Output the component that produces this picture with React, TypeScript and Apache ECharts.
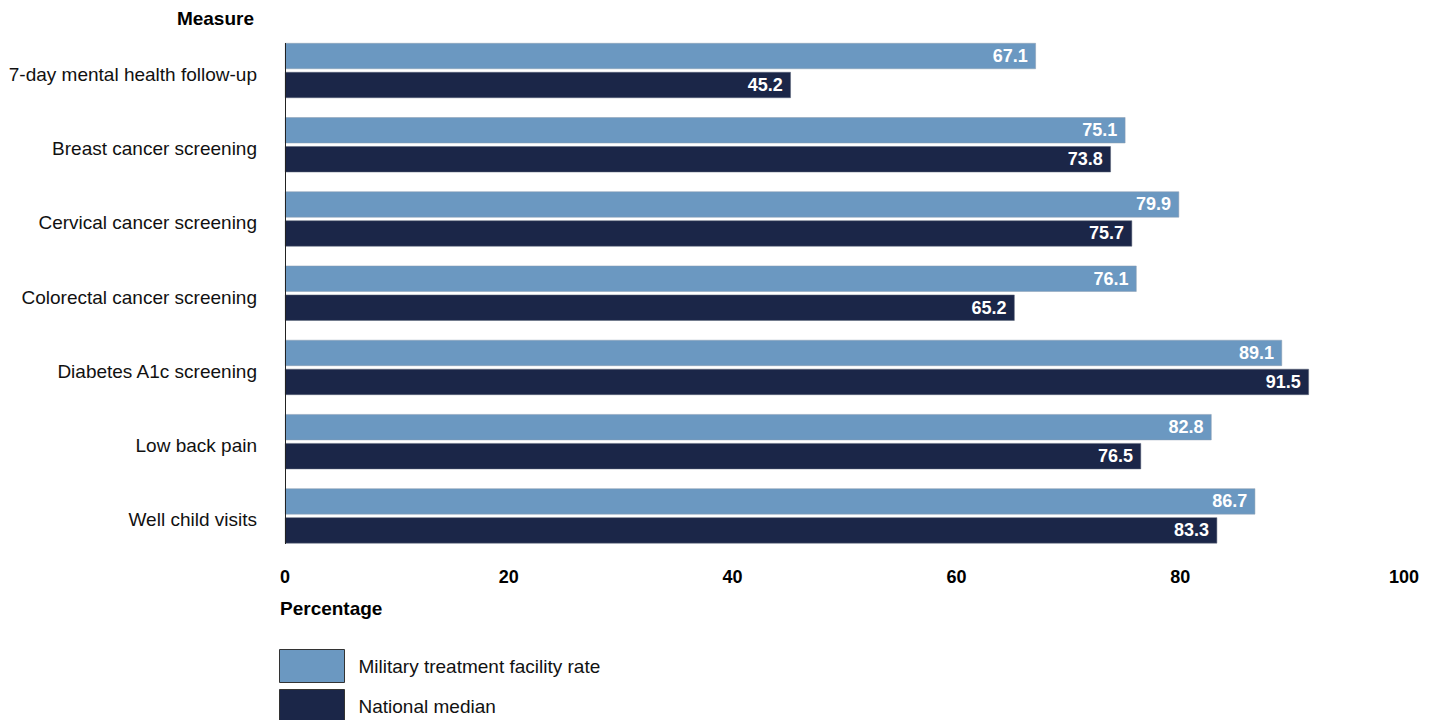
import React, { useEffect, useRef } from "react";
import * as echarts from "echarts";

const categories = [
  "7-day mental health follow-up",
  "Breast cancer screening",
  "Cervical cancer screening",
  "Colorectal cancer screening",
  "Diabetes A1c screening",
  "Low back pain",
  "Well child visits",
];
const mtfRate = [67.1, 75.1, 79.9, 76.1, 89.1, 82.8, 86.7];
const nationalMedian = [45.2, 73.8, 75.7, 65.2, 91.5, 76.5, 83.3];
const seriesNames = ["Military treatment facility rate", "National median"];
const xTicks = { min: 0, max: 100, interval: 20 };

const FONT = "'Liberation Sans', Arial, sans-serif";
const LIGHT = "#6b98c1";
const DARK = "#1b2648";

export default function App() {
  const ref = useRef<HTMLDivElement>(null);
  useEffect(() => {
    if (!ref.current) return;
    const chart = echarts.init(ref.current, null, { renderer: "svg" });
    const labelStyle = {
      show: true,
      position: "insideRight",
      distance: 8,
      color: "#ffffff",
      fontWeight: "bold",
      fontSize: 18,
      fontFamily: FONT,
      formatter: (p: any) => Number(p.value).toFixed(1),
    };
    const legendCommon = {
      orient: "vertical",
      left: 279,
      padding: 0,
      itemWidth: 65,
      itemHeight: 33,
      icon: "rect",
      textStyle: { fontSize: 19, color: "#111", fontFamily: FONT, padding: [0, 0, 0, 9] },
      itemStyle: { borderColor: "#333", borderWidth: 1 },
    };
    chart.setOption({
      animation: false,
      textStyle: { fontFamily: FONT },
      title: [
        {
          text: "Measure",
          right: 1439 - 259,
          top: 3.5,
          textStyle: { fontSize: 19, fontWeight: "bold", color: "#000", fontFamily: FONT },
        },
        {
          text: "Percentage",
          left: 275,
          top: 593.5,
          textStyle: { fontSize: 19, fontWeight: "bold", color: "#000", fontFamily: FONT },
        },
      ],
      grid: { left: 285, right: 35, top: 33.4, bottom: 167 },
      legend: [
        { ...legendCommon, top: 649, data: [seriesNames[0]] },
        { ...legendCommon, top: 689, data: [seriesNames[1]] },
      ],
      xAxis: {
        type: "value",
        min: xTicks.min,
        max: xTicks.max,
        interval: xTicks.interval,
        axisLine: { show: false },
        axisTick: { show: false },
        splitLine: { show: false },
        axisLabel: {
          margin: 15,
          color: "#000",
          fontWeight: "bold",
          fontSize: 18,
          fontFamily: FONT,
        },
      },
      yAxis: {
        type: "category",
        data: categories,
        inverse: true,
        axisLine: { show: false },
        axisTick: { show: false },
        axisLabel: {
          margin: 28,
          formatter: (v: string) => "{c|" + v + "}",
          rich: {
            c: {
              color: "#111",
              fontSize: 19,
              fontFamily: FONT,
              padding: [8, 0, 0, 0],
            },
          },
        },
      },
      graphic: [
        {
          type: "line",
          shape: { x1: 285.5, y1: 43, x2: 285.5, y2: 544 },
          style: { stroke: "#222", lineWidth: 1 },
          z: 10,
        },
      ],
      series: [
        {
          name: seriesNames[0],
          type: "bar",
          data: mtfRate,
          barWidth: 26,
          barGap: "11.5%",
          itemStyle: { color: LIGHT, borderColor: "#8a9db0", borderWidth: 0.5 },
          label: labelStyle,
        },
        {
          name: seriesNames[1],
          type: "bar",
          data: nationalMedian,
          barWidth: 26,
          itemStyle: { color: DARK, borderColor: "#5a6478", borderWidth: 0.5 },
          label: labelStyle,
        },
      ],
    });
    return () => chart.dispose();
  }, []);
  return <div ref={ref} style={{ width: 1439, height: 720, position: "absolute", left: 0, top: 0 }} />;
}
